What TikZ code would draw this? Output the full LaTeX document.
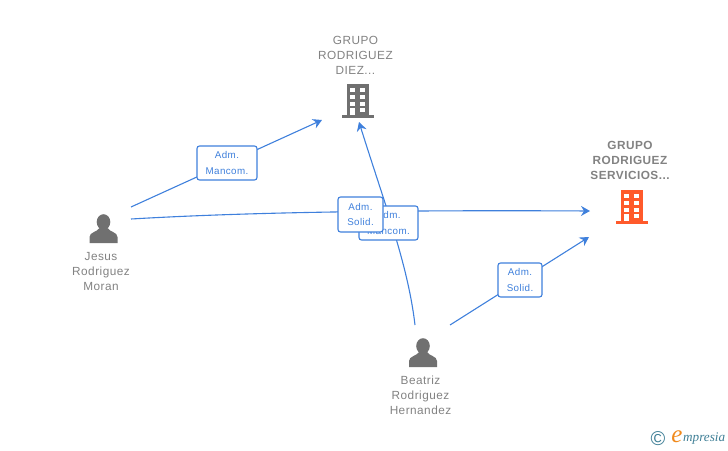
\documentclass[tikz,border=0pt]{standalone}
\usepackage{fontspec}
\setmainfont{Liberation Sans}
\newfontfamily\spacedfont[LetterSpace=4]{Liberation Sans}
\newfontfamily\logofont{Liberation Serif}
\usetikzlibrary{arrows.meta}
\definecolor{linkblue}{HTML}{3F80DC}
\definecolor{namegray}{HTML}{828282}
\definecolor{icongray}{HTML}{707070}
\definecolor{iconred}{HTML}{FF5A2B}
\definecolor{logoblue}{HTML}{3F7F96}
\definecolor{logoorange}{HTML}{F08A1D}
\tikzset{
  namelabel/.style={text=namegray,font=\spacedfont\fontsize{11.8}{15.2}\selectfont,align=center,inner sep=0pt},
  rolebox/.style={draw=linkblue,fill=white,rounded corners=2.5pt,line width=1.1pt,text=linkblue,
    font=\spacedfont\fontsize{9.8}{15.2}\selectfont,align=center,inner sep=0pt},
  link/.style={draw=linkblue,line width=1.1pt},
  linkarrow/.style={link,-{Stealth[length=9pt,width=10pt,inset=3pt]}},
  person/.pic={
    \fill[icongray] (0,-7) circle (6.8 and 7.8);
    \fill[icongray] (-14,14) -- (-14,8) .. controls (-14,3) and (-6,3) .. (-4,-1) -- (4,-1)
      .. controls (6,3) and (14,3) .. (14,8) -- (14,14) -- cycle;
  },
  building/.pic={
    \fill[pic actions] (-11,-16) rectangle (11,15);
    \fill[pic actions] (-16,15) rectangle (16,18);
    \foreach \r in {-11.7,-5,1.7}{
      \fill[white] (-8,\r) rectangle (-3,\r+4);
      \fill[white] (2,\r) rectangle (7,\r+4);
    }
    \fill[white] (2,8.3) rectangle (7,12.3);
    \fill[white] (-8,8.3) rectangle (-3,15);
  }
}
\begin{document}
\begin{tikzpicture}[x=1pt,y=-1pt]
  \useasboundingbox (0,0) rectangle (728,450);
  % end points of the links
  \coordinate (j1) at (131,207);
  \coordinate (j2) at (131,219);
  \coordinate (b1) at (415,325);
  \coordinate (b2) at (450,325);
  \coordinate (d1) at (322,120);
  \coordinate (d2) at (359,122);
  \coordinate (s1) at (590,211);
  \coordinate (s2) at (589,237);
  % links
  \path[linkarrow] (j1) -- (d1);
  \path[linkarrow] (j2) .. controls (250,212) and (400,210) .. (s1);
  \path[linkarrow] (b1) .. controls (408,265) and (385,205) .. (d2);
  \path[linkarrow] (b2) -- (s2);
  % role boxes
  \node[rolebox,minimum width=60pt,minimum height=34pt] (mancomA) at (227,163) {Adm.\\Mancom.};
  \node[rolebox,minimum width=59pt,minimum height=34pt] (mancomB) at (388.5,223) {Adm.\\Mancom.};
  \node[rolebox,minimum width=45pt,minimum height=35pt] (solidA) at (360.5,214.5) {Adm.\\Solid.};
  \node[rolebox,minimum width=44pt,minimum height=34pt] (solidB) at (520,280) {Adm.\\Solid.};
  % icons
  \pic[icongray] at (358,100) {building};
  \pic[iconred] at (631.5,206) {building};
  \pic at (103.5,229) {person};
  \pic at (423,353) {person};
  % names
  \node[namelabel] (diez) at (355.5,55.5) {GRUPO\\RODRIGUEZ\\DIEZ...};
  \node[namelabel,font=\spacedfont\bfseries\fontsize{11.8}{15.2}\selectfont] (servicios) at (630,160.5) {GRUPO\\RODRIGUEZ\\SERVICIOS...};
  \node[namelabel] (jesus) at (101,271.5) {Jesus\\Rodriguez\\Moran};
  \node[namelabel] (beatriz) at (420.5,395.5) {Beatriz\\Rodriguez\\Hernandez};
  % logo
  \node[text=logoblue,font=\fontsize{20}{20}\selectfont,inner sep=0pt] (copy) at (658,438.5) {©};
  \node[text=logoorange,font=\logofont\itshape\fontsize{25}{25}\selectfont,inner sep=0pt] (logoe) at (677,437) {e};
  \node[text=logoblue,font=\logofont\itshape\fontsize{13.2}{14}\selectfont,inner sep=0pt,anchor=west] (logo) at (683,439) {mpresia};
\end{tikzpicture}
\end{document}
